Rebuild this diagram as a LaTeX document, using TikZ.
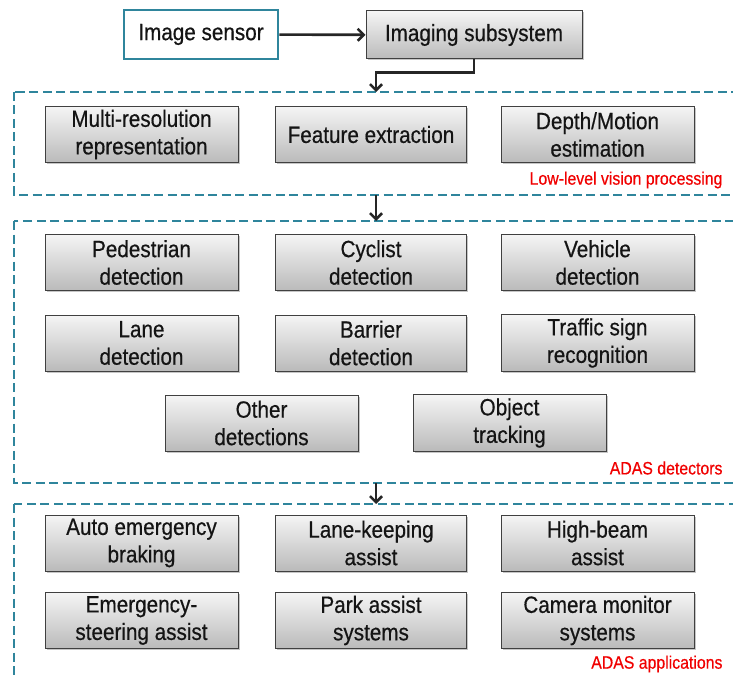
\documentclass[tikz,border=0pt]{standalone}
\usepackage{fontspec}
\setmainfont{Liberation Sans}[FakeStretch=0.88, FakeBold=0.5]
\usepackage{tikz}
\usetikzlibrary{shadows,arrows.meta}
\definecolor{teal}{RGB}{47,133,156}
\definecolor{labelred}{RGB}{240,0,0}
\newcommand{\boxfont}{\fontsize{23.5}{27.5}\selectfont}
\newcommand{\tagfont}{\fontsize{18}{20}\selectfont}

\begin{document}
\begin{tikzpicture}[x=1pt,y=-1pt,
    procbox/.style={draw=black!75, line width=1pt, top color=black!4, bottom color=black!27,
        drop shadow={shadow xshift=1.5pt, shadow yshift=-1.5pt, opacity=0.45},
        minimum width=193pt, minimum height=56pt, align=center, font=\boxfont, text=black!92},
    sensorbox/.style={draw=teal, line width=2.8pt, fill=white, minimum width=154pt,
        minimum height=49pt, font=\boxfont, text=black!92},
    panel/.style={draw=teal, line width=2.7pt, dash pattern=on 9pt off 4.5pt},
    paneltag/.style={anchor=east, text=labelred, font=\tagfont},
    flow/.style={draw=black!85, line width=2.6pt, -{Straight Barb[length=6pt,width=12pt]}}]
    \useasboundingbox (0,0) rectangle (733,679);
    \clip (0,0) rectangle (733,679);

    % Sensor and imaging subsystem
    \node[sensorbox] (sensor) at (201,34.5) {Image sensor};
    \node[procbox, minimum width=216pt, minimum height=48pt] (imgsub) at (474,35) {Imaging subsystem};
    \draw[flow] (sensor) -- (imgsub);

    % Low-level vision processing
    \draw[panel] (14,92) rectangle (760,195);
    \coordinate (lowtop) at (376,92);
    \coordinate (lowbot) at (376,195);
    \node[procbox] (multires) at (141.5,134.5) {Multi-resolution\\representation};
    \node[procbox, minimum width=191pt] (feature) at (371,134.5) {Feature extraction};
    \node[procbox] (depth) at (597.5,134.5) {Depth/Motion\\estimation};
    \node[paneltag] (lowtag) at (726,180) {Low-level vision processing};
    \draw[flow] (imgsub.south) -- ++(0,13) -| (lowtop);

    % ADAS detectors
    \draw[panel] (14,221) rectangle (760,483);
    \coordinate (dettop) at (376,221);
    \coordinate (detbot) at (376,483);
    \node[procbox] (pedestrian) at (141.5,262.5) {Pedestrian\\detection};
    \node[procbox, minimum width=191pt] (cyclist) at (371,262.5) {Cyclist\\detection};
    \node[procbox] (vehicle) at (597.5,262.5) {Vehicle\\detection};
    \node[procbox] (lane) at (141.5,343) {Lane\\detection};
    \node[procbox, minimum width=191pt] (barrier) at (371,343) {Barrier\\detection};
    \node[procbox] (traffic) at (597.5,343) {Traffic sign\\recognition};
    \node[procbox] (other) at (261.5,423) {Other\\detections};
    \node[procbox] (tracking) at (509.5,423) {Object\\tracking};
    \node[paneltag] (dettag) at (726,468) {ADAS detectors};
    \draw[flow] (lowbot) -- (dettop);

    % ADAS applications
    \draw[panel] (14,504) rectangle (760,680);
    \coordinate (apptop) at (376,504);
    \node[procbox] (braking) at (141.5,543) {Auto emergency\\braking};
    \node[procbox, minimum width=191pt] (lanekeep) at (371,543) {Lane-keeping\\assist};
    \node[procbox] (highbeam) at (597.5,543) {High-beam\\assist};
    \node[procbox] (steering) at (141.5,620.5) {Emergency-\\steering assist};
    \node[procbox, minimum width=191pt] (park) at (371,620.5) {Park assist\\systems};
    \node[procbox] (camera) at (597.5,620.5) {Camera monitor\\systems};
    \node[paneltag] (apptag) at (726,664) {ADAS applications};
    \draw[flow] (detbot) -- (apptop);
\end{tikzpicture}
\end{document}
